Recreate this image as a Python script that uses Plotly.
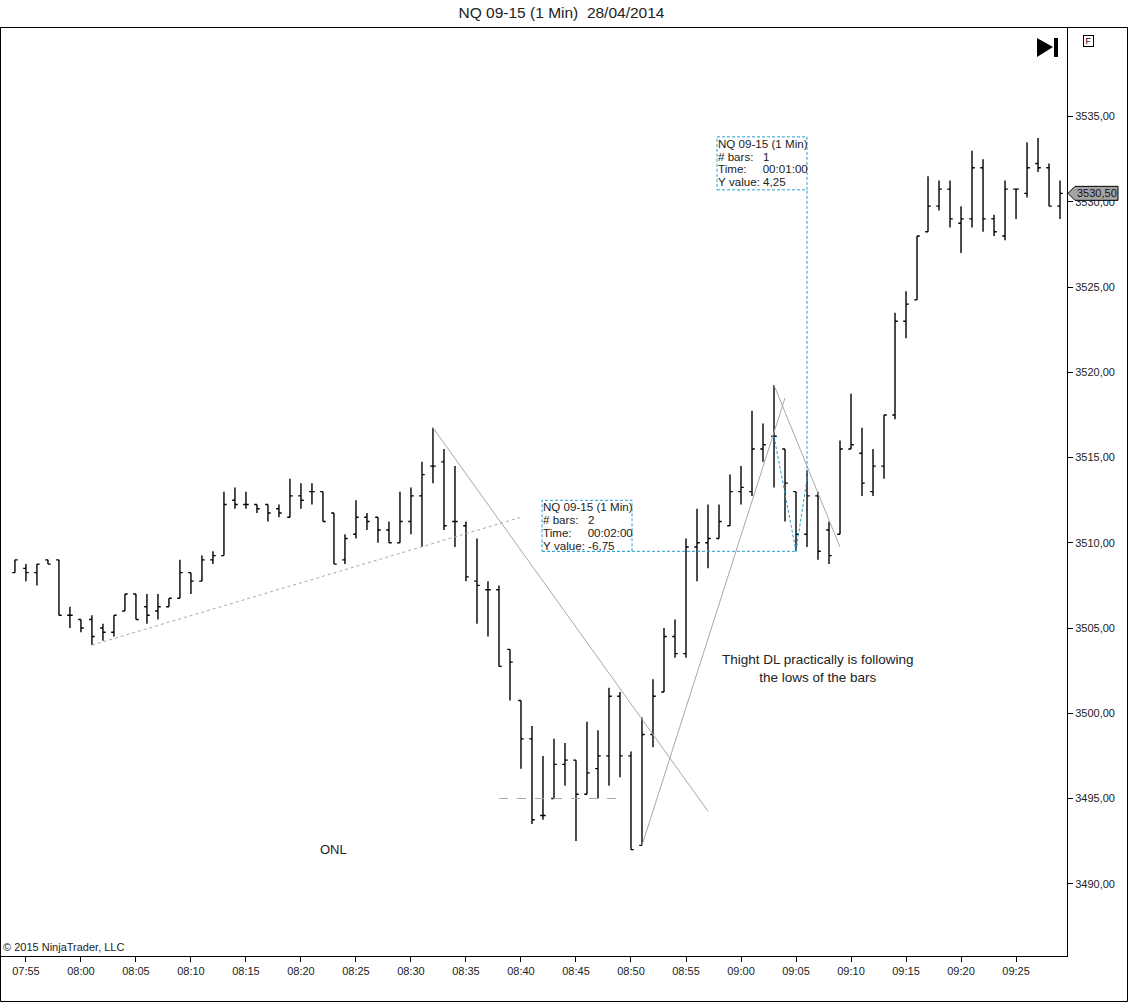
import plotly.graph_objects as go

# NQ 09-15, 1 minute bars, 28/04/2014
day = "2014-04-28 "
times = ["07:54", "07:55", "07:56", "07:57", "07:58", "07:59",
         "08:00", "08:01", "08:02", "08:03", "08:04", "08:05", "08:06", "08:07", "08:08", "08:09",
         "08:10", "08:11", "08:12", "08:13", "08:14", "08:15", "08:16", "08:17", "08:18", "08:19",
         "08:20", "08:21", "08:22", "08:23", "08:24", "08:25", "08:26", "08:27", "08:28", "08:29",
         "08:30", "08:31", "08:32", "08:33", "08:34", "08:35", "08:36", "08:37", "08:38", "08:39",
         "08:40", "08:41", "08:42", "08:43", "08:44", "08:45", "08:46", "08:47", "08:48", "08:49",
         "08:50", "08:51", "08:52", "08:53", "08:54", "08:55", "08:56", "08:57", "08:58", "08:59",
         "09:00", "09:01", "09:02", "09:03", "09:04", "09:05", "09:06", "09:07", "09:08", "09:09",
         "09:10", "09:11", "09:12", "09:13", "09:14", "09:15", "09:16", "09:17", "09:18", "09:19",
         "09:20", "09:21", "09:22", "09:23", "09:24", "09:25", "09:26", "09:27", "09:28", "09:29"]

opens = [3508.25, 3508.5, 3508.25, 3509.0, 3509.0, 3505.75,
         3505.5, 3505.5, 3505.0, 3504.75, 3506.0, 3507.0, 3506.25, 3506.0, 3506.25, 3506.75,
         3508.25, 3507.75, 3509.0, 3509.25, 3512.5, 3512.25, 3512.25, 3512.25, 3512.0, 3511.5,
         3512.75, 3513.0, 3513.0, 3511.75, 3509.0, 3510.5, 3511.5, 3511.5, 3510.75, 3510.0,
         3511.25, 3512.75, 3514.5, 3514.75, 3511.25, 3511.0, 3507.75, 3507.25, 3507.25, 3503.75,
         3500.75, 3498.5, 3494.0, 3495.0, 3497.0, 3497.25, 3495.25, 3496.75, 3497.5, 3501.0,
         3497.5, 3492.25, 3498.75, 3501.25, 3504.5, 3503.5, 3509.75, 3510.0, 3510.25, 3511.0,
         3513.0, 3513.0, 3515.5, 3516.25, 3515.5, 3513.0, 3510.5, 3512.75, 3510.75, 3510.5,
         3515.5, 3515.25, 3513.0, 3514.5, 3517.5, 3523.0, 3524.25, 3528.25, 3529.75, 3530.75,
         3528.75, 3529.0, 3532.0, 3529.0, 3528.0, 3530.75, 3530.5, 3532.25, 3532.0, 3529.75]

highs = [3509.0, 3508.75, 3508.75, 3509.0, 3509.0, 3506.25,
         3505.5, 3505.75, 3505.25, 3505.75, 3507.0, 3507.0, 3507.0, 3507.0, 3506.75, 3509.0,
         3508.25, 3509.25, 3509.5, 3513.0, 3513.25, 3513.0, 3512.25, 3512.25, 3512.25, 3513.75,
         3513.5, 3513.5, 3513.0, 3511.75, 3510.5, 3512.5, 3511.75, 3511.5, 3511.25, 3513.0,
         3513.25, 3514.75, 3516.75, 3515.5, 3514.5, 3511.25, 3510.25, 3507.75, 3507.5, 3503.75,
         3500.75, 3499.25, 3497.5, 3498.5, 3498.25, 3497.25, 3499.5, 3499.0, 3501.5, 3501.25,
         3497.75, 3499.75, 3502.0, 3505.0, 3505.5, 3510.25, 3512.0, 3512.25, 3512.25, 3514.0,
         3514.5, 3517.75, 3517.0, 3519.25, 3515.5, 3513.0, 3514.25, 3513.0, 3511.25, 3516.0,
         3518.75, 3516.75, 3515.5, 3517.5, 3523.5, 3524.75, 3528.0, 3531.5, 3531.25, 3531.25,
         3529.75, 3533.0, 3532.5, 3529.25, 3531.25, 3530.75, 3533.5, 3533.75, 3532.25, 3531.25]

lows = [3508.25, 3507.75, 3507.5, 3508.75, 3505.75, 3505.0,
        3504.75, 3504.0, 3504.25, 3504.5, 3506.0, 3505.5, 3505.25, 3505.5, 3506.25, 3506.75,
        3507.0, 3507.75, 3508.75, 3509.25, 3512.0, 3512.0, 3511.75, 3511.25, 3511.5, 3511.5,
        3512.0, 3512.25, 3511.25, 3508.75, 3508.75, 3510.25, 3510.75, 3510.0, 3510.0, 3510.0,
        3510.5, 3509.75, 3513.5, 3510.75, 3509.75, 3507.75, 3505.25, 3504.5, 3502.75, 3500.75,
        3496.75, 3493.5, 3493.75, 3495.0, 3495.75, 3492.5, 3495.25, 3495.0, 3495.75, 3496.25,
        3492.0, 3492.25, 3498.0, 3501.25, 3503.25, 3503.25, 3507.75, 3508.5, 3510.25, 3511.0,
        3512.25, 3512.75, 3514.75, 3513.25, 3511.25, 3509.5, 3509.75, 3509.0, 3508.75, 3510.5,
        3515.5, 3512.75, 3512.75, 3513.75, 3517.25, 3522.0, 3524.25, 3528.25, 3529.5, 3528.5,
        3527.0, 3528.5, 3528.25, 3528.0, 3527.75, 3529.0, 3530.25, 3531.75, 3529.75, 3529.0]

closes = [3509.0, 3508.25, 3508.75, 3508.75, 3505.75, 3505.75,
          3505.0, 3504.5, 3504.75, 3505.75, 3507.0, 3505.5, 3505.75, 3506.25, 3506.75, 3508.25,
          3507.75, 3509.0, 3509.25, 3512.25, 3512.25, 3512.25, 3512.0, 3511.75, 3511.75, 3512.75,
          3512.5, 3513.0, 3511.25, 3508.75, 3510.25, 3511.5, 3511.25, 3510.75, 3510.0, 3511.25,
          3512.75, 3514.0, 3514.5, 3511.0, 3511.25, 3508.0, 3507.5, 3507.25, 3502.75, 3503.0,
          3498.5, 3493.75, 3494.0, 3497.0, 3497.25, 3495.25, 3496.5, 3497.5, 3501.0, 3497.5,
          3492.0, 3498.75, 3501.0, 3504.5, 3503.5, 3509.75, 3510.0, 3510.25, 3511.25, 3513.0,
          3513.25, 3515.5, 3515.75, 3516.25, 3513.5, 3510.5, 3512.75, 3509.5, 3509.25, 3515.5,
          3515.75, 3513.5, 3514.5, 3517.5, 3523.0, 3524.0, 3528.0, 3529.75, 3530.75, 3529.0,
          3529.0, 3532.0, 3529.0, 3528.25, 3530.75, 3530.75, 3532.0, 3532.0, 3529.75, 3530.5]

last_price = 3530.50

# axis ticks
x_ticks = ["07:55", "08:00", "08:05", "08:10", "08:15", "08:20", "08:25", "08:30", "08:35", "08:40",
           "08:45", "08:50", "08:55", "09:00", "09:05", "09:10", "09:15", "09:20", "09:25"]
y_ticks = [3490, 3495, 3500, 3505, 3510, 3515, 3520, 3525, 3530, 3535]

# drawing objects on the chart: (start time, start price, end time, end price)
trend_lines = [("08:01", 3504.0, "08:40", 3511.5, "dot"),
               ("08:32", 3516.75, "08:57", 3494.25, "solid"),
               ("08:38", 3495.0, "08:49", 3495.0, "dash"),
               ("08:51", 3492.25, "09:04", 3518.5, "solid"),
               ("09:03", 3519.25, "09:09", 3509.75, "solid")]

# measure tool: start, end, box text
measures = [("09:03", 3516.25, "09:05", 3509.5,
             ["NQ 09-15 (1 Min)", "# bars:   2", "Time:     00:02:00", "Y value: -6,75"]),
            ("09:05", 3509.5, "09:06", 3513.75,
             ["NQ 09-15 (1 Min)", "# bars:   1", "Time:     00:01:00", "Y value: 4,25"])]

FONT = "Liberation Sans, Arial, sans-serif"
CYAN = "#25a0d2"
W, H = 1128, 1002
L, R, T, B = 1, 61, 28, 46
PW, PH = W - L - R, H - T - B


def px(x):
    return (x - L) / PW


def py(y):
    return (H - B - y) / PH


def ts(t):
    return day + t + ":00"


fig = go.Figure()
fig.add_trace(go.Ohlc(
    x=[ts(t) for t in times], open=opens, high=highs, low=lows, close=closes,
    increasing=dict(line=dict(color="black", width=1.4)),
    decreasing=dict(line=dict(color="black", width=1.4)),
    tickwidth=0.25, hoverinfo="skip", showlegend=False))

shapes = []
for t0, p0, t1, p1, dash in trend_lines:
    shapes.append(dict(type="line", xref="x", yref="y", x0=ts(t0), y0=p0, x1=ts(t1), y1=p1,
                       line=dict(color="#a8a8a8", width=1, dash=dash)))

annotations = []
# box geometry relative to measure end point (pixels)
boxes = [(-254, -164, 0, 51), (-90, 0, 289, 342)]
for (t0, p0, t1, p1, lines), (bx0, bx1, by0, by1) in zip(measures, boxes):
    shapes.append(dict(type="line", xref="x", yref="y", x0=ts(t0), y0=p0, x1=ts(t1), y1=p1,
                       line=dict(color=CYAN, width=1, dash="3px,2px")))
    # leader from end point to box
    if by0 == 0:
        lx0, lx1, ly0, ly1 = bx0, 0, 0, 0
    else:
        lx0, lx1, ly0, ly1 = 0, 0, 0, by0
    shapes.append(dict(type="line", xref="x", yref="y", xsizemode="pixel", ysizemode="pixel",
                       xanchor=ts(t1), yanchor=p1, x0=lx0, x1=lx1, y0=ly0, y1=ly1,
                       line=dict(color=CYAN, width=1, dash="3px,2px")))
    shapes.append(dict(type="rect", xref="x", yref="y", xsizemode="pixel", ysizemode="pixel",
                       xanchor=ts(t1), yanchor=p1, x0=bx0, x1=bx1, y0=by0, y1=by1,
                       fillcolor="white", line=dict(color=CYAN, width=1, dash="3px,2px")))
    for i, s in enumerate(lines):
        annotations.append(dict(x=ts(t1), y=p1, xref="x", yref="y", xanchor="left",
                                yanchor="middle", xshift=bx0 - 1, yshift=by1 - 6.5 - 12.8 * i,
                                showarrow=False, align="left", text=s.replace(" ", "\u00a0"),
                                font=dict(family=FONT, size=11.6, color="#222")))

# outer window frame
shapes.append(dict(type="rect", xref="paper", yref="paper",
                   x0=px(0.5), x1=px(W - 0.5), y0=py(H - 0.5), y1=py(27.5),
                   line=dict(color="black", width=1)))
# "go to last bar" icon
shapes.append(dict(type="path", xref="paper", yref="paper",
                   path=f"M {px(1037)},{py(38)} L {px(1053)},{py(47)} L {px(1037)},{py(57)} Z",
                   fillcolor="black", line=dict(width=0)))
shapes.append(dict(type="rect", xref="paper", yref="paper",
                   x0=px(1054), x1=px(1058), y0=py(57), y1=py(38),
                   fillcolor="black", line=dict(width=0)))
# "F" box
annotations.append(dict(x=px(1094), y=py(35.5), xref="paper", yref="paper", text="F",
                        showarrow=False, bordercolor="black", borderwidth=1, borderpad=0,
                        bgcolor="white", width=9, height=10,
                        font=dict(family=FONT, size=9, color="black")))
# last price marker
shapes.append(dict(type="path", xref="paper", yref="y", xsizemode="pixel", xanchor=1,
                   ysizemode="pixel", yanchor=last_price,
                   path="M 1,0 L 8,7 L 51,7 L 51,-7 L 8,-7 Z",
                   fillcolor="#a4a4a4", line=dict(color="black", width=1)))
annotations.append(dict(x=1, y=last_price, xref="paper", yref="y", xanchor="left", xshift=8,
                        text=f"{last_price:.2f}".replace(".", ","), showarrow=False,
                        font=dict(family=FONT, size=11, color="#111")))

annotations.append(dict(x=ts("08:23"), y=3492.0, xref="x", yref="y", text="ONL", showarrow=False,
                        font=dict(family=FONT, size=13, color="#222")))
annotations.append(dict(x=ts("09:07"), y=3502.6, xref="x", yref="y", showarrow=False,
                        text="Thight DL practically is following<br>the lows of the bars",
                        font=dict(family=FONT, size=13.5, color="#222")))
annotations.append(dict(x=px(1), y=0, xref="paper", yref="paper", xanchor="left", yanchor="bottom",
                        yshift=1, text="\u00a9 2015 NinjaTrader, LLC", showarrow=False,
                        font=dict(family=FONT, size=11, color="#222")))

fig.update_layout(
    width=W, height=H, margin=dict(l=L, r=R, t=T, b=B),
    paper_bgcolor="white", plot_bgcolor="white",
    title=dict(text="NQ 09-15 (1 Min)  28/04/2014", x=561.5 / W, xref="container",
               xanchor="center", y=1 - 13 / H, yref="container", yanchor="middle",
               font=dict(family=FONT, size=15.5, color="#222")),
    font=dict(family=FONT, size=11, color="#222"),
    shapes=shapes, annotations=annotations, hovermode=False,
    xaxis=dict(type="date", range=[day + "07:52:44", day + "09:29:38"],
               tickvals=[ts(t) for t in x_ticks], ticktext=x_ticks,
               ticks="outside", ticklen=5, tickcolor="black", showgrid=False, zeroline=False,
               showline=True, linecolor="black", linewidth=1, mirror=True,
               rangeslider=dict(visible=False), tickfont=dict(size=11, color="#222")),
    yaxis=dict(side="right", range=[3485.76, 3540.2], tickvals=y_ticks,
               ticktext=[f"{v:.2f}".replace(".", ",") for v in y_ticks],
               ticks="outside", ticklen=5, tickcolor="black", showgrid=False, zeroline=False,
               showline=True, linecolor="black", linewidth=1, mirror=True,
               tickfont=dict(size=11, color="#222")),
)

# the page's default body margin would shift the chart by 8px
fig.write_html("out.html", config={"displayModeBar": False},
               post_script="document.body.style.margin='0';")
